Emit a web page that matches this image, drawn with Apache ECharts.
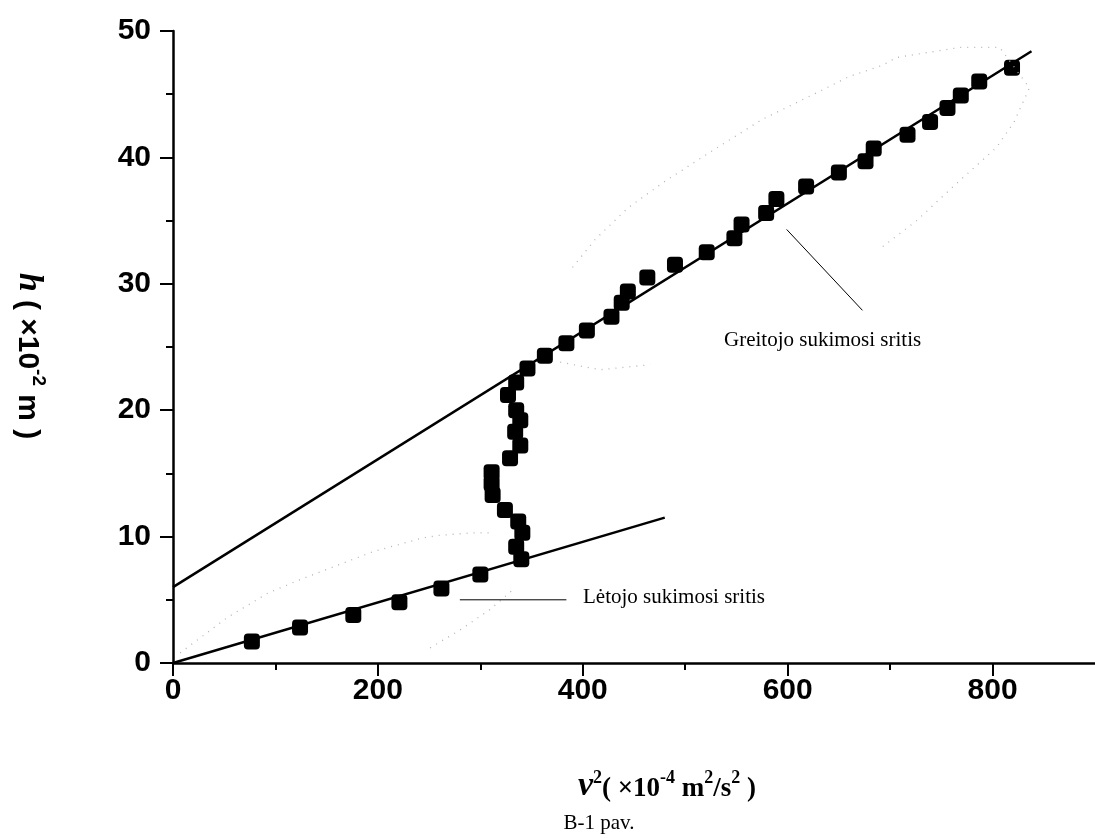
<!DOCTYPE html>
<html>
<head>
<meta charset="utf-8">
<script src="https://cdn.jsdelivr.net/npm/echarts@6/dist/echarts.min.js"></script>
<style>
  html, body { margin: 0; padding: 0; background: #fff; }
  #chart { width: 1095px; height: 838px; }
</style>
</head>
<body>
<div id="chart"></div>
<script>
// measured points, v^2 (x1e-4 m2/s2) vs h (x1e-2 m), in order along the run
const pointV = [77, 124, 176, 221, 262, 300, 340,
  335, 341, 337, 324, 312, 311, 311, 329, 339, 334, 339, 335, 327, 335, 346,
  363, 384, 404, 428, 438, 444, 463, 490, 521, 548, 555, 579, 589, 618, 650,
  676, 684, 717, 739, 756, 769, 787, 819];
const pointH = [1.7, 2.8, 3.8, 4.8, 5.9, 7.0, 8.2,
  9.2, 10.3, 11.2, 12.1, 13.3, 14.2, 15.1, 16.2, 17.2, 18.3, 19.2, 20.0, 21.2, 22.2, 23.3,
  24.3, 25.3, 26.3, 27.4, 28.5, 29.4, 30.5, 31.5, 32.5, 33.6, 34.7, 35.6, 36.7, 37.7, 38.8,
  39.7, 40.7, 41.8, 42.8, 43.9, 44.9, 46.0, 47.1];

// fitted lines (end points)
const fastFitV = [0, 838];
const fastFitH = [6.0, 48.4];
const slowFitV = [0, 480];
const slowFitH = [0, 11.5];

// leader lines for the two region notes
const slowLeadV = [280, 384];
const slowLeadH = [5.0, 5.0];
const fastLeadV = [599, 673];
const fastLeadH = [34.3, 27.9];

// faint dotted traces left in the scan
const traceAV = [7, 53, 92, 121, 195, 244, 260, 293, 309];
const traceAH = [0.8, 3.6, 5.5, 6.5, 8.8, 9.9, 10.1, 10.3, 10.3];
const traceBV = [390, 412, 444, 480, 524, 575, 638, 660, 693, 706, 768, 807, 836, 821, 804, 763, 726, 692];
const traceBH = [31.3, 33.5, 36.0, 38.1, 40.4, 43.0, 45.5, 46.4, 47.3, 47.9, 48.7, 48.7, 45.5, 42.8, 40.8, 37.8, 35.0, 32.9];
const traceCV = [251, 280, 309, 332];
const traceCH = [1.2, 2.6, 4.2, 5.8];
const traceDV = [378, 417, 466];
const traceDH = [23.8, 23.2, 23.6];

const xMajor = [0, 200, 400, 600, 800];
const xMinor = [100, 300, 500, 700];

const pairs = (xs, ys) => xs.map((x, i) => [x, ys[i]]);

const chart = echarts.init(document.getElementById('chart'));

const thinLine = (data, style) => ({
    type: 'line',
    data,
    symbol: 'none',
    silent: true,
    lineStyle: style
});
const dotted = { color: '#b4b4b4', width: 1.3, type: [1, 6] };

const option = {
    animation: false,
    backgroundColor: '#fff',
    grid: { left: 173, right: 0, top: 31, bottom: 175 },
    xAxis: [
        {
            type: 'value',
            min: 0,
            max: 900,
            interval: 100,
            axisLine: { show: true, lineStyle: { color: '#000', width: 2.5 } },
            axisTick: { show: true, customValues: xMajor, length: 13, lineStyle: { color: '#000', width: 2 } },
            axisLabel: {
                customValues: xMajor,
                color: '#000',
                fontFamily: 'Liberation Sans',
                fontWeight: 'bold',
                fontSize: 30,
                margin: 13
            },
            splitLine: { show: false }
        },
        {
            type: 'value',
            min: 0,
            max: 900,
            interval: 100,
            position: 'bottom',
            axisLine: { show: false },
            axisTick: { show: true, customValues: xMinor, length: 7, lineStyle: { color: '#000', width: 2 } },
            axisLabel: { show: false },
            splitLine: { show: false }
        }
    ],
    yAxis: {
        type: 'value',
        min: 0,
        max: 50,
        interval: 10,
        axisLine: { show: true, lineStyle: { color: '#000', width: 2.5 } },
        axisTick: { show: true, length: 13, lineStyle: { color: '#000', width: 2 } },
        minorTick: { show: true, splitNumber: 2, length: 7, lineStyle: { color: '#000', width: 2 } },
        axisLabel: {
            color: '#000',
            fontFamily: 'Liberation Sans',
            fontWeight: 'bold',
            fontSize: 30,
            margin: 22
        },
        splitLine: { show: false },
        minorSplitLine: { show: false }
    },
    series: [
        thinLine(pairs(traceAV, traceAH), dotted),
        thinLine(pairs(traceBV, traceBH), dotted),
        thinLine(pairs(traceCV, traceCH), dotted),
        thinLine(pairs(traceDV, traceDH), dotted),
        thinLine(pairs(fastFitV, fastFitH), { color: '#000', width: 2.5 }),
        thinLine(pairs(slowFitV, slowFitH), { color: '#000', width: 2.5 }),
        thinLine(pairs(slowLeadV, slowLeadH), { color: '#000', width: 1 }),
        thinLine(pairs(fastLeadV, fastLeadH), { color: '#000', width: 1 }),
        {
            type: 'scatter',
            data: pairs(pointV, pointH),
            symbol: 'roundRect',
            symbolSize: 16,
            itemStyle: { color: '#000', opacity: 1 },
            silent: true
        }
    ],
    graphic: [
        {
            type: 'text',
            x: 30,
            y: 356,
            rotation: -Math.PI / 2,
            style: {
                text: '{i|h}{n| ( ×10}{s|-2}{n| m )}',
                align: 'center',
                verticalAlign: 'middle',
                fill: '#000',
                rich: {
                    i: { fontFamily: 'Liberation Serif', fontStyle: 'italic', fontWeight: 'bold', fontSize: 34, lineHeight: 36, verticalAlign: 'bottom' },
                    n: { fontFamily: 'Liberation Sans', fontWeight: 'bold', fontSize: 30, lineHeight: 36, verticalAlign: 'bottom' },
                    s: { fontFamily: 'Liberation Sans', fontWeight: 'bold', fontSize: 19, lineHeight: 36, verticalAlign: 'top' }
                }
            }
        },
        {
            type: 'text',
            x: 667,
            y: 786,
            style: {
                text: '{v|v}{s|2}{n|( ×10}{s|-4}{n| m}{s|2}{n|/s}{s|2}{n| )}',
                align: 'center',
                verticalAlign: 'middle',
                fill: '#000',
                rich: {
                    v: { fontFamily: 'Liberation Serif', fontStyle: 'italic', fontWeight: 'bold', fontSize: 34, lineHeight: 34, verticalAlign: 'bottom' },
                    n: { fontFamily: 'Liberation Serif', fontWeight: 'bold', fontSize: 27, lineHeight: 34, verticalAlign: 'bottom' },
                    s: { fontFamily: 'Liberation Serif', fontWeight: 'bold', fontSize: 18, lineHeight: 34, verticalAlign: 'top' }
                }
            }
        },
        {
            type: 'text',
            x: 599,
            y: 823,
            style: { text: 'B-1 pav.', align: 'center', verticalAlign: 'middle', fill: '#000', font: '21px "Liberation Serif"' }
        },
        {
            type: 'text',
            x: 583,
            y: 597,
            style: { text: 'Lėtojo sukimosi sritis', align: 'left', verticalAlign: 'middle', fill: '#000', font: '21px "Liberation Serif"' }
        },
        {
            type: 'text',
            x: 724,
            y: 340,
            style: { text: 'Greitojo sukimosi sritis', align: 'left', verticalAlign: 'middle', fill: '#000', font: '21px "Liberation Serif"' }
        }
    ]
};

chart.setOption(option);

window.addEventListener('resize', () => chart.resize());
</script>
</body>
</html>
